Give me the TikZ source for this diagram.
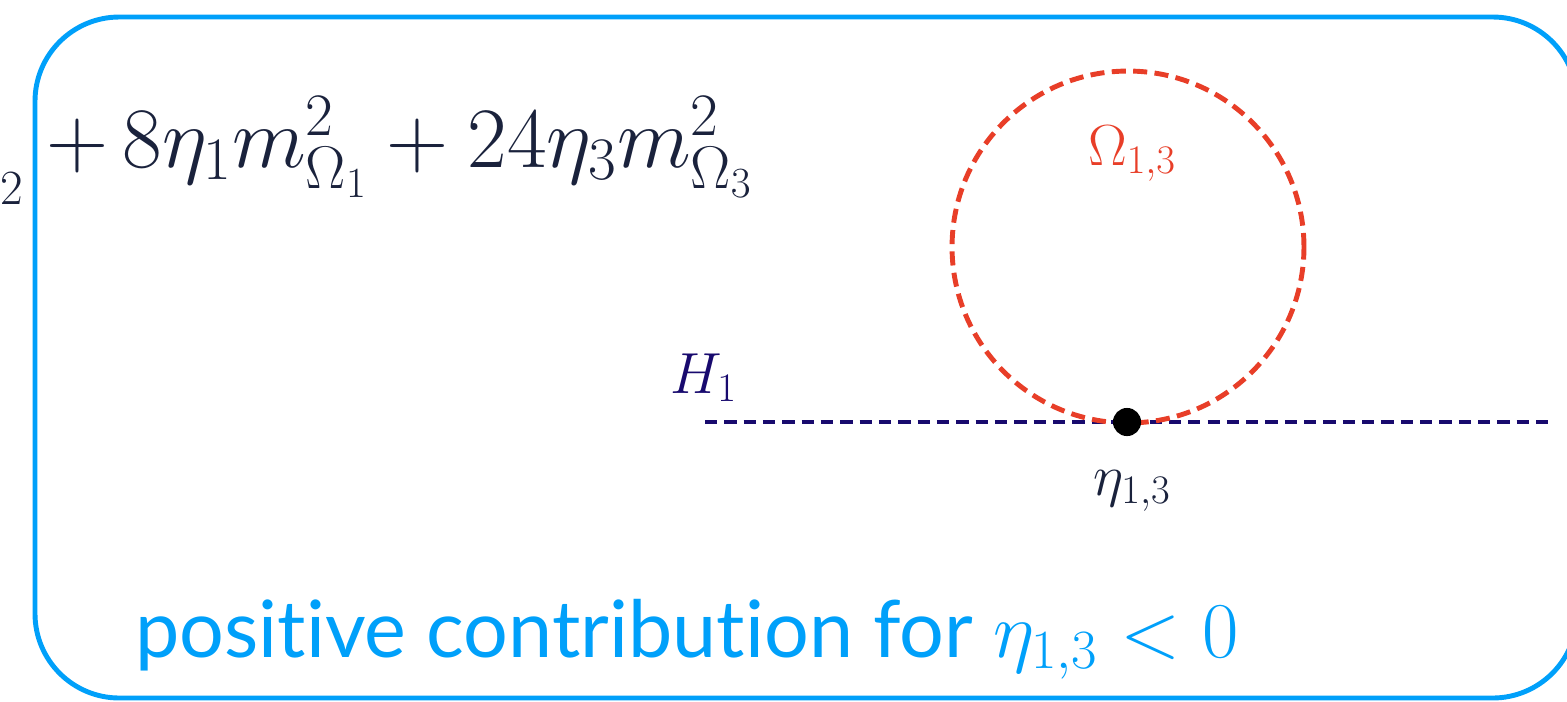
\RequirePackage{fix-cm}
\documentclass[tikz,border=0pt]{standalone}
\usepackage{fontspec}
\newfontfamily\notefont[Ligatures=NoCommon]{Lato}
\definecolor{boxblue}{RGB}{0,160,250}
\definecolor{loopred}{RGB}{232,62,40}
\definecolor{higgsnavy}{RGB}{24,10,110}
\definecolor{inkdark}{RGB}{26,34,60}
\tikzset{
  frame/.style={draw=boxblue,line width=2.8pt,rounded corners=48pt},
  loopline/.style={draw=loopred,line width=2.8pt,dash pattern=on 8pt off 4.2pt},
  higgsline/.style={draw=higgsnavy,line width=2.8pt,dash pattern=on 7pt off 4pt},
  vertex/.style={circle,fill=black,inner sep=0pt,minimum size=16pt},
  eqtext/.style={text=inkdark,inner sep=0pt,font=\fontsize{49}{56}\selectfont},
  lbl/.style={inner sep=0pt,font=\fontsize{33}{40}\selectfont}
}
\begin{document}
\begin{tikzpicture}[x=0.02cm,y=-0.02cm]
\useasboundingbox (0,0) rectangle (1567,701);
% frame round the term
\draw[frame] (35,17) rectangle (1577,698);

% the term
\node[eqtext,anchor=base east] (cut) at (23,204) {\fontsize{28}{32}\selectfont 2};
\node[eqtext,anchor=base west] (formula) at (46,167)
  {$+\,8\eta_1 m_{\Omega_1}^2 + 24\eta_3 m_{\Omega_3}^2$};

% loop on the Higgs line
\coordinate (hleft) at (705,422);
\coordinate (hright) at (1552,422);
\coordinate (loopc) at (1128,247);
\draw[higgsline] (hleft) -- (hright);
\draw[loopline] (loopc) circle (3.52cm);
\node[vertex] (vtx) at (1127,422) {};

\node[lbl,text=loopred,anchor=base] (omega) at (1132,165) {$\Omega_{1,3}$};
\node[lbl,text=higgsnavy,anchor=base west] (higgs) at (670,393) {$H_1$};
\node[lbl,text=inkdark,anchor=base] (coupl) at (1132,495) {$\eta_{1,3}$};

\node[anchor=base west,inner sep=0pt,text=boxblue,font=\notefont\fontsize{45}{52}\selectfont]
  (note) at (135,657) {positive contribution for $\eta_{1,3} < 0$};
\end{tikzpicture}
\end{document}
